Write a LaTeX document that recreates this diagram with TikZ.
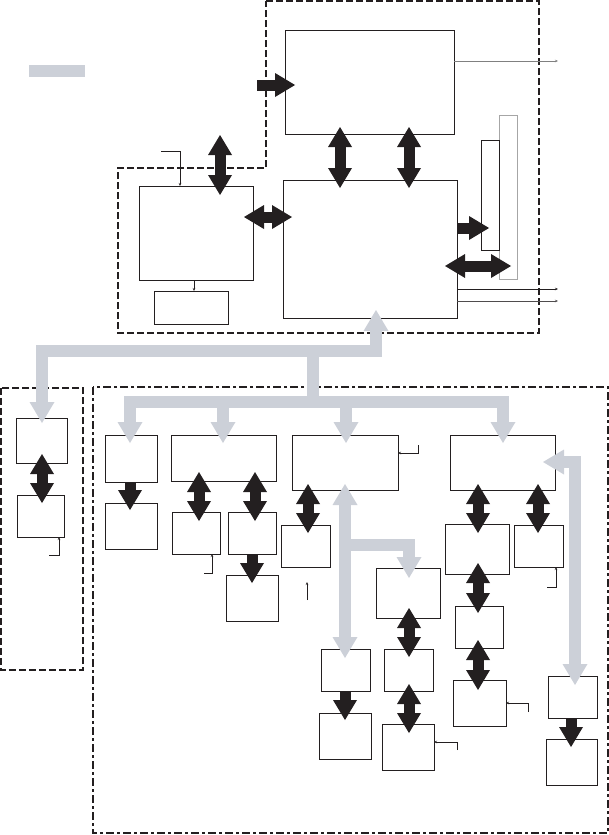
\documentclass[tikz,border=0pt]{standalone}
\usetikzlibrary{arrows.meta}
\definecolor{busgrey}{RGB}{204,208,216}
\definecolor{ink}{RGB}{35,31,32}
\tikzset{
  box/.style={draw=ink,line width=0.9pt,fill=white,inner sep=0pt,outer sep=0pt,anchor=north west},
  bigtip/.tip={Triangle[width=24pt,length=20pt,line width=0pt]},
  gtip/.tip={Triangle[width=25pt,length=21pt,line width=0pt]},
  smalltip/.tip={Stealth[length=3pt,width=2.5pt]},
  blk/.style={draw=ink,line width=11pt,-{bigtip}},
  blkd/.style={draw=ink,line width=11pt,{bigtip}-{bigtip}},
  gry/.style={draw=busgrey,line width=12pt,line join=miter},
  thinl/.style={draw=ink,line width=0.6pt,-{smalltip}},
  regdash/.style={draw=ink,line width=1.1pt,dash pattern=on 7pt off 3pt},
  dotdash/.style={draw=ink,line width=1.1pt,dash pattern=on 8pt off 3pt on 3pt off 3pt},
}
\newcommand\bx[5]{\node[box,minimum width={(#4-#2)*1pt},minimum height={(#5-#3)*1pt}] (#1) at (#2,#3) {};}
\begin{document}
\begin{tikzpicture}[x=1pt,y=-1pt]
\useasboundingbox (0,0) rectangle (609,835);
% legend
\node[fill=busgrey,inner sep=0pt,outer sep=0pt,anchor=north west,minimum width=56pt,minimum height=12pt] (legend) at (29,65) {};
% dashed regions
\draw[regdash] (266,1) -- (539,1) -- (539,333) -- (118,333) -- (118,168) -- (266,168) -- cycle;
\draw[regdash] (1,388) rectangle (83,670);
\draw[dotdash] (93,387) rectangle (608,833);
% boxes
\node[box,draw=gray!70,minimum width=18pt,minimum height=164pt] (G) at (499,115) {};
\bx{A}{285}{30}{454}{134}
\bx{B}{283}{180}{457}{318}
\bx{C}{139}{186}{253}{280}
\bx{D}{154}{291}{228}{324}
\bx{T}{481}{140}{499}{250}
\bx{L1}{16}{418}{67}{463}
\bx{L2}{17}{495}{64}{537}
\bx{M1}{105}{435}{157}{482}
\bx{M1b}{105}{503}{157}{549}
\bx{M2}{171}{435}{276}{481}
\bx{M2a}{172}{512}{220}{554}
\bx{M2b}{228}{512}{276}{554}
\bx{M2c}{226}{575}{278}{621}
\bx{M3}{292}{435}{398}{490}
\bx{M3a}{281}{525}{330}{567}
\bx{M4}{376}{568}{440}{618}
\bx{M7}{321}{649}{370}{691}
\bx{M7b}{319}{713}{371}{759}
\bx{M8}{384}{649}{433}{691}
\bx{M8b}{382}{724}{434}{770}
\bx{M5}{450}{435}{555}{490}
\bx{M5a}{445}{524}{509}{574}
\bx{M5b}{514}{525}{563}{567}
\bx{M5c}{455}{606}{503}{648}
\bx{M5d}{453}{680}{506}{726}
\bx{M6}{548}{676}{597}{718}
\bx{M6b}{546}{739}{597}{785}
% free ends
\coordinate (inA) at (257,85);
\coordinate (topC) at (220,135);
\coordinate (outA) at (558,61);
\coordinate (outB1) at (558,289);
\coordinate (outB2) at (558,301);
\coordinate (inC) at (161,151);
\coordinate (nL2) at (49,555);
\coordinate (nM2a) at (204,573);
\coordinate (nM3) at (418,445);
\coordinate (nM3a) at (307,600);
\coordinate (nM3at) at (307,582);
\coordinate (nM5b) at (547,587);
\coordinate (nM5d) at (528,712);
\coordinate (nM8b) at (457,750);
\coordinate (stem) at (313,351);
% grey buses
\draw[gry,{gtip}-{gtip},shorten <=-5pt,shorten >=-8pt] (42,0 |- L1.north) -- (42,351) -- (376,351) -- (376,0 |- B.south);
\draw[gry] (stem) -- (313,402);
\draw[gry,{gtip}-{gtip},shorten <=-8pt,shorten >=-8pt] (130,0 |- M1.north) -- (130,402) -- (503,402) -- (503,0 |- M5.north);
\draw[gry,-{gtip},shorten >=-8pt] (223,402) -- (223,0 |- M2.north);
\draw[gry,-{gtip},shorten >=-8pt] (346,402) -- (346,0 |- M3.north);
\draw[gry,{gtip}-{gtip},shorten <=-6pt,shorten >=-9pt] (345,0 |- M3.south) -- (345,0 |- M7.north);
\draw[gry,-{gtip},shorten >=-10pt] (345,545) -- (409,545) -- (409,0 |- M4.north);
\draw[gry,{gtip}-{gtip},shorten <=-12pt,shorten >=-9pt] (M5.east |- 0,462) -- (575,462) -- (575,0 |- M6.north);
% black arrows
\draw[blk,shorten >=-10pt] (inA) -- (A.west |- inA);
\draw[blkd,shorten >=-9pt] (topC) -- (topC |- C.north);
\draw[blkd,shorten <=-9pt,shorten >=-9pt] (C.east |- 0,217) -- (B.west |- 0,217);
\draw[blkd,shorten <=-7pt,shorten >=-8pt] (340,0 |- A.south) -- (340,0 |- B.north);
\draw[blkd,shorten <=-7pt,shorten >=-8pt] (409,0 |- A.south) -- (409,0 |- B.north);
\draw[blk,shorten >=-8pt] (B.east |- 0,228) -- (T.west |- 0,228);
\draw[blkd,shorten <=-12pt,shorten >=-12pt] (B.east |- 0,266) -- (G.west |- 0,266);
\draw[blkd,shorten <=-9pt,shorten >=-8pt] (42,0 |- L1.south) -- (42,0 |- L2.north);
\draw[blk,shorten >=-7pt] (130,0 |- M1.south) -- (130,0 |- M1b.north);
\draw[blkd,shorten <=-9pt,shorten >=-9pt] (199,0 |- M2.south) -- (199,0 |- M2a.north);
\draw[blkd,shorten <=-9pt,shorten >=-9pt] (255,0 |- M2.south) -- (255,0 |- M2b.north);
\draw[blk,shorten >=-8pt] (252,0 |- M2b.south) -- (252,0 |- M2c.north);
\draw[blkd,shorten <=-6pt,shorten >=-8pt] (308,0 |- M3.south) -- (308,0 |- M3a.north);
\draw[blkd,shorten <=-6pt,shorten >=-9pt] (478,0 |- M5.south) -- (478,0 |- M5a.north);
\draw[blkd,shorten <=-6pt,shorten >=-8pt] (538,0 |- M5.south) -- (538,0 |- M5b.north);
\draw[blkd,shorten <=-11pt,shorten >=-7pt] (478,0 |- M5a.south) -- (478,0 |- M5c.north);
\draw[blkd,shorten <=-8pt,shorten >=-10pt] (478,0 |- M5c.south) -- (478,0 |- M5d.north);
\draw[blkd,shorten <=-10pt,shorten >=-8pt] (409,0 |- M4.south) -- (409,0 |- M8.north);
\draw[blkd,shorten <=-7pt,shorten >=-9pt] (409,0 |- M8.south) -- (409,0 |- M8b.north);
\draw[blk,shorten >=-7pt] (345,0 |- M7.south) -- (345,0 |- M7b.north);
\draw[blk,shorten >=-8pt] (571,0 |- M6.south) -- (571,0 |- M6b.north);
% thin lines
\draw[thinl,draw=gray] (A.east |- outA) -- (outA);
\draw[thinl] (B.east |- outB1) -- (outB1);
\draw[thinl,draw=ink!80] (B.east |- outB2) -- (outB2);
\draw[thinl] (inC) -- (180,151) -- (180,0 |- C.north);
\draw[thinl] (194,0 |- C.south) -- (194,0 |- D.north);
\draw[thinl] (nL2) -- (59,555) -- (59,0 |- L2.south);
\draw[thinl] (nM2a) -- (212,573) -- (212,0 |- M2a.south);
\draw[thinl] (nM3) -- (418,453) -- (M3.east |- 0,453);
\draw[thinl] (nM3a) -- (nM3at);
\draw[thinl] (nM5b) -- (556,587) -- (556,0 |- M5b.south);
\draw[thinl] (nM5d) -- (528,703) -- (M5d.east |- 0,703);
\draw[thinl] (nM8b) -- (457,742) -- (M8b.east |- 0,742);
\end{tikzpicture}
\end{document}
